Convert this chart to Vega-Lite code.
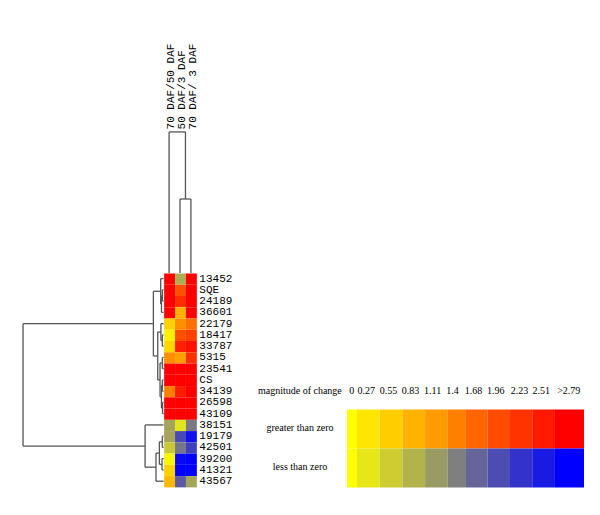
{
  "$schema": "https://vega.github.io/schema/vega-lite/v6.json",
  "width": 600,
  "height": 515,
  "autosize": {"type": "fit", "contains": "padding"},
  "padding": 0,
  "background": "white",
  "config": {"view": {"stroke": null}},
  "datasets": {
    "cells": [
      {"gene": "13452", "row": 0.5, "col": 0.5, "value": 2.9}, {"gene": "13452", "row": 0.5, "col": 1.5, "value": -0.9}, {"gene": "13452", "row": 0.5, "col": 2.5, "value": 2.9},
      {"gene": "SQE", "row": 1.5, "col": 0.5, "value": 2.9}, {"gene": "SQE", "row": 1.5, "col": 1.5, "value": 1.9}, {"gene": "SQE", "row": 1.5, "col": 2.5, "value": 2.9},
      {"gene": "24189", "row": 2.5, "col": 0.5, "value": 2.9}, {"gene": "24189", "row": 2.5, "col": 1.5, "value": 2.3}, {"gene": "24189", "row": 2.5, "col": 2.5, "value": 2.9},
      {"gene": "36601", "row": 3.5, "col": 0.5, "value": 2.9}, {"gene": "36601", "row": 3.5, "col": 1.5, "value": 0.86}, {"gene": "36601", "row": 3.5, "col": 2.5, "value": 2.9},
      {"gene": "22179", "row": 4.5, "col": 0.5, "value": 0.5}, {"gene": "22179", "row": 4.5, "col": 1.5, "value": 1.22}, {"gene": "22179", "row": 4.5, "col": 2.5, "value": 1.57},
      {"gene": "18417", "row": 5.5, "col": 0.5, "value": 0.16}, {"gene": "18417", "row": 5.5, "col": 1.5, "value": 1.91}, {"gene": "18417", "row": 5.5, "col": 2.5, "value": 2.09},
      {"gene": "33787", "row": 6.5, "col": 0.5, "value": 0.43}, {"gene": "33787", "row": 6.5, "col": 1.5, "value": 2.44}, {"gene": "33787", "row": 6.5, "col": 2.5, "value": 2.62},
      {"gene": "5315", "row": 7.5, "col": 0.5, "value": 1.22}, {"gene": "5315", "row": 7.5, "col": 1.5, "value": 1.04}, {"gene": "5315", "row": 7.5, "col": 2.5, "value": 2.27},
      {"gene": "23541", "row": 8.5, "col": 0.5, "value": 2.9}, {"gene": "23541", "row": 8.5, "col": 1.5, "value": 2.9}, {"gene": "23541", "row": 8.5, "col": 2.5, "value": 2.9},
      {"gene": "CS", "row": 9.5, "col": 0.5, "value": 2.9}, {"gene": "CS", "row": 9.5, "col": 1.5, "value": 2.9}, {"gene": "CS", "row": 9.5, "col": 2.5, "value": 2.9},
      {"gene": "34139", "row": 10.5, "col": 0.5, "value": 1.39}, {"gene": "34139", "row": 10.5, "col": 1.5, "value": 2.5}, {"gene": "34139", "row": 10.5, "col": 2.5, "value": 2.9},
      {"gene": "26598", "row": 11.5, "col": 0.5, "value": 2.9}, {"gene": "26598", "row": 11.5, "col": 1.5, "value": 2.9}, {"gene": "26598", "row": 11.5, "col": 2.5, "value": 2.9},
      {"gene": "43109", "row": 12.5, "col": 0.5, "value": 2.9}, {"gene": "43109", "row": 12.5, "col": 1.5, "value": 2.9}, {"gene": "43109", "row": 12.5, "col": 2.5, "value": 2.9},
      {"gene": "38151", "row": 13.5, "col": 0.5, "value": -1.0}, {"gene": "38151", "row": 13.5, "col": 1.5, "value": -0.3}, {"gene": "38151", "row": 13.5, "col": 2.5, "value": -1.45},
      {"gene": "19179", "row": 14.5, "col": 0.5, "value": -1.0}, {"gene": "19179", "row": 14.5, "col": 1.5, "value": -2.0}, {"gene": "19179", "row": 14.5, "col": 2.5, "value": -2.6},
      {"gene": "42501", "row": 15.5, "col": 0.5, "value": -0.6}, {"gene": "42501", "row": 15.5, "col": 1.5, "value": -1.5}, {"gene": "42501", "row": 15.5, "col": 2.5, "value": -2.1},
      {"gene": "39200", "row": 16.5, "col": 0.5, "value": -0.1}, {"gene": "39200", "row": 16.5, "col": 1.5, "value": -2.7}, {"gene": "39200", "row": 16.5, "col": 2.5, "value": -2.8},
      {"gene": "41321", "row": 17.5, "col": 0.5, "value": 0.5}, {"gene": "41321", "row": 17.5, "col": 1.5, "value": -2.8}, {"gene": "41321", "row": 17.5, "col": 2.5, "value": -2.8},
      {"gene": "43567", "row": 18.5, "col": 0.5, "value": 0.75}, {"gene": "43567", "row": 18.5, "col": 1.5, "value": -1.8}, {"gene": "43567", "row": 18.5, "col": 2.5, "value": -1.0}
    ],
    "conditions": [
      {"condition": "70 DAF/50 DAF", "col": 0.5},
      {"condition": "50 DAF/3 DAF", "col": 1.5},
      {"condition": "70 DAF/ 3 DAF", "col": 2.5}
    ],
    "tree": [
      {"x": -0.12, "y": 1.5, "x2": -0.12, "y2": 2.5}, {"x": -0.12, "y": 1.5, "x2": 0, "y2": 1.5}, {"x": -0.12, "y": 2.5, "x2": 0, "y2": 2.5},
      {"x": -0.2, "y": 2.0, "x2": -0.2, "y2": 3.5}, {"x": -0.2, "y": 2.0, "x2": -0.12, "y2": 2.0}, {"x": -0.2, "y": 3.5, "x2": 0, "y2": 3.5},
      {"x": -0.27, "y": 0.5, "x2": -0.27, "y2": 2.75}, {"x": -0.27, "y": 0.5, "x2": 0, "y2": 0.5}, {"x": -0.27, "y": 2.75, "x2": -0.2, "y2": 2.75},
      {"x": -0.12, "y": 5.5, "x2": -0.12, "y2": 6.5}, {"x": -0.12, "y": 5.5, "x2": 0, "y2": 5.5}, {"x": -0.12, "y": 6.5, "x2": 0, "y2": 6.5},
      {"x": -0.25, "y": 4.5, "x2": -0.25, "y2": 6.0}, {"x": -0.25, "y": 4.5, "x2": 0, "y2": 4.5}, {"x": -0.25, "y": 6.0, "x2": -0.12, "y2": 6.0},
      {"x": -0.12, "y": 7.5, "x2": -0.12, "y2": 8.5}, {"x": -0.12, "y": 7.5, "x2": 0, "y2": 7.5}, {"x": -0.12, "y": 8.5, "x2": 0, "y2": 8.5},
      {"x": -0.12, "y": 9.5, "x2": -0.12, "y2": 10.5}, {"x": -0.12, "y": 9.5, "x2": 0, "y2": 9.5}, {"x": -0.12, "y": 10.5, "x2": 0, "y2": 10.5},
      {"x": -0.1, "y": 11.5, "x2": -0.1, "y2": 12.5}, {"x": -0.1, "y": 11.5, "x2": 0, "y2": 11.5}, {"x": -0.1, "y": 12.5, "x2": 0, "y2": 12.5},
      {"x": -0.2, "y": 10.0, "x2": -0.2, "y2": 12.0}, {"x": -0.2, "y": 10.0, "x2": -0.12, "y2": 10.0}, {"x": -0.2, "y": 12.0, "x2": -0.1, "y2": 12.0},
      {"x": -0.33, "y": 8.0, "x2": -0.33, "y2": 11.0}, {"x": -0.33, "y": 8.0, "x2": -0.12, "y2": 8.0}, {"x": -0.33, "y": 11.0, "x2": -0.2, "y2": 11.0},
      {"x": -0.54, "y": 5.25, "x2": -0.54, "y2": 9.5}, {"x": -0.54, "y": 5.25, "x2": -0.25, "y2": 5.25}, {"x": -0.54, "y": 9.5, "x2": -0.33, "y2": 9.5},
      {"x": -0.94, "y": 1.625, "x2": -0.94, "y2": 7.375}, {"x": -0.94, "y": 1.625, "x2": -0.27, "y2": 1.625}, {"x": -0.94, "y": 7.375, "x2": -0.54, "y2": 7.375},
      {"x": -0.12, "y": 14.5, "x2": -0.12, "y2": 15.5}, {"x": -0.12, "y": 14.5, "x2": 0, "y2": 14.5}, {"x": -0.12, "y": 15.5, "x2": 0, "y2": 15.5},
      {"x": -0.15, "y": 16.5, "x2": -0.15, "y2": 17.5}, {"x": -0.15, "y": 16.5, "x2": 0, "y2": 16.5}, {"x": -0.15, "y": 17.5, "x2": 0, "y2": 17.5},
      {"x": -0.39, "y": 15.0, "x2": -0.39, "y2": 17.0}, {"x": -0.39, "y": 15.0, "x2": -0.12, "y2": 15.0}, {"x": -0.39, "y": 17.0, "x2": -0.15, "y2": 17.0},
      {"x": -0.7, "y": 16.0, "x2": -0.7, "y2": 18.5}, {"x": -0.7, "y": 16.0, "x2": -0.39, "y2": 16.0}, {"x": -0.7, "y": 18.5, "x2": 0, "y2": 18.5},
      {"x": -1.7, "y": 13.5, "x2": -1.7, "y2": 17.25}, {"x": -1.7, "y": 13.5, "x2": 0, "y2": 13.5}, {"x": -1.7, "y": 17.25, "x2": -0.7, "y2": 17.25},
      {"x": -12.89, "y": 4.5, "x2": -12.89, "y2": 15.375}, {"x": -12.89, "y": 4.5, "x2": -0.94, "y2": 4.5}, {"x": -12.89, "y": 15.375, "x2": -1.7, "y2": 15.375},
      {"x": 1.5, "y": 0, "x2": 1.5, "y2": -6.57}, {"x": 2.5, "y": 0, "x2": 2.5, "y2": -6.57}, {"x": 1.5, "y": -6.57, "x2": 2.5, "y2": -6.57},
      {"x": 0.5, "y": 0, "x2": 0.5, "y2": -12.53}, {"x": 2.0, "y": -6.57, "x2": 2.0, "y2": -12.53}, {"x": 0.5, "y": -12.53, "x2": 2.0, "y2": -12.53}
    ],
    "legendCells": [
      {"side": "greater than zero", "gy": 0.5, "label": "0", "value": 0, "from": 0.56, "to": 1},
      {"side": "greater than zero", "gy": 0.5, "label": "0.27", "value": 0.27, "from": 1, "to": 2},
      {"side": "greater than zero", "gy": 0.5, "label": "0.55", "value": 0.55, "from": 2, "to": 3},
      {"side": "greater than zero", "gy": 0.5, "label": "0.83", "value": 0.83, "from": 3, "to": 4},
      {"side": "greater than zero", "gy": 0.5, "label": "1.11", "value": 1.11, "from": 4, "to": 5},
      {"side": "greater than zero", "gy": 0.5, "label": "1.4", "value": 1.4, "from": 5, "to": 5.8},
      {"side": "greater than zero", "gy": 0.5, "label": "1.68", "value": 1.68, "from": 5.8, "to": 6.75},
      {"side": "greater than zero", "gy": 0.5, "label": "1.96", "value": 1.96, "from": 6.75, "to": 7.74},
      {"side": "greater than zero", "gy": 0.5, "label": "2.23", "value": 2.23, "from": 7.74, "to": 8.72},
      {"side": "greater than zero", "gy": 0.5, "label": "2.51", "value": 2.51, "from": 8.72, "to": 9.72},
      {"side": "greater than zero", "gy": 0.5, "label": ">2.79", "value": 2.79, "from": 9.72, "to": 11.0},
      {"side": "less than zero", "gy": 1.5, "label": "0", "value": 0, "from": 0.56, "to": 1},
      {"side": "less than zero", "gy": 1.5, "label": "0.27", "value": -0.27, "from": 1, "to": 2},
      {"side": "less than zero", "gy": 1.5, "label": "0.55", "value": -0.55, "from": 2, "to": 3},
      {"side": "less than zero", "gy": 1.5, "label": "0.83", "value": -0.83, "from": 3, "to": 4},
      {"side": "less than zero", "gy": 1.5, "label": "1.11", "value": -1.11, "from": 4, "to": 5},
      {"side": "less than zero", "gy": 1.5, "label": "1.4", "value": -1.4, "from": 5, "to": 5.8},
      {"side": "less than zero", "gy": 1.5, "label": "1.68", "value": -1.68, "from": 5.8, "to": 6.75},
      {"side": "less than zero", "gy": 1.5, "label": "1.96", "value": -1.96, "from": 6.75, "to": 7.74},
      {"side": "less than zero", "gy": 1.5, "label": "2.23", "value": -2.23, "from": 7.74, "to": 8.72},
      {"side": "less than zero", "gy": 1.5, "label": "2.51", "value": -2.51, "from": 8.72, "to": 9.72},
      {"side": "less than zero", "gy": 1.5, "label": ">2.79", "value": -2.79, "from": 9.72, "to": 11.0}
    ],
    "legendLabels": [
      {"label": "0", "mid": 0.77}, {"label": "0.27", "mid": 1.41}, {"label": "0.55", "mid": 2.39},
      {"label": "0.83", "mid": 3.36}, {"label": "1.11", "mid": 4.33}, {"label": "1.4", "mid": 5.21},
      {"label": "1.68", "mid": 6.13}, {"label": "1.96", "mid": 7.11}, {"label": "2.23", "mid": 8.16},
      {"label": "2.51", "mid": 9.12}, {"label": ">2.79", "mid": 10.33}
    ],
    "legendRows": [
      {"side": "greater than zero", "gy": 0.5},
      {"side": "less than zero", "gy": 1.5}
    ]
  },
  "resolve": {"scale": {"x": "independent", "y": "independent"}},
  "layer": [
    {
      "layer": [
        {
          "data": {"name": "cells"},
          "mark": {"type": "rect", "binSpacing": 0},
          "encoding": {
            "x": {"field": "col", "type": "quantitative", "bin": {"step": 1, "extent": [0, 3]}, "scale": {"domain": [-15, 40], "nice": false, "zero": false}, "axis": null},
            "y": {"field": "row", "type": "quantitative", "bin": {"step": 1, "extent": [0, 19]}, "scale": {"domain": [-24.25, 21.5], "nice": false, "zero": false, "reverse": true}, "axis": null},
            "color": {"field": "value", "type": "quantitative", "scale": {"type": "linear", "domain": [-2.79, 0, 2.79], "range": ["#0000ff", "#ffff00", "#ff0000"], "interpolate": "rgb", "clamp": true}, "legend": null}
          }
        },
        {
          "data": {"name": "tree"},
          "mark": {"type": "rule", "color": "#555555", "strokeWidth": 1.3},
          "encoding": {
            "x": {"field": "x", "type": "quantitative", "scale": {"domain": [-15, 40], "nice": false, "zero": false}, "axis": null},
            "y": {"field": "y", "type": "quantitative", "scale": {"domain": [-24.25, 21.5], "nice": false, "zero": false, "reverse": true}, "axis": null},
            "x2": {"field": "x2"},
            "y2": {"field": "y2"}
          }
        },
        {
          "data": {"name": "cells"},
          "transform": [{"filter": "datum.col == 0.5"}],
          "mark": {"type": "text", "align": "left", "baseline": "middle", "font": "Liberation Mono", "fontSize": 11, "dx": 3, "color": "#000000"},
          "encoding": {
            "x": {"datum": 3, "type": "quantitative", "scale": {"domain": [-15, 40], "nice": false, "zero": false}, "axis": null},
            "y": {"field": "row", "type": "quantitative", "scale": {"domain": [-24.25, 21.5], "nice": false, "zero": false, "reverse": true}, "axis": null},
            "text": {"field": "gene"}
          }
        },
        {
          "data": {"name": "conditions"},
          "mark": {"type": "text", "align": "left", "baseline": "middle", "angle": 270, "font": "Liberation Mono", "fontSize": 11, "xOffset": 2, "color": "#000000"},
          "encoding": {
            "x": {"field": "col", "type": "quantitative", "scale": {"domain": [-15, 40], "nice": false, "zero": false}, "axis": null},
            "y": {"datum": -12.75, "type": "quantitative", "scale": {"domain": [-24.25, 21.5], "nice": false, "zero": false, "reverse": true}, "axis": null},
            "text": {"field": "condition"}
          }
        }
      ]
    },
    {
      "layer": [
        {
          "data": {"name": "legendCells"},
          "mark": {"type": "rect"},
          "encoding": {
            "x": {"field": "from", "type": "quantitative", "scale": {"domain": [-14.727, 11.705], "nice": false, "zero": false}, "axis": null},
            "x2": {"field": "to"},
            "y": {"field": "gy", "type": "quantitative", "bin": {"step": 1, "extent": [0, 2]}, "scale": {"domain": [-10.487, 2.718], "nice": false, "zero": false, "reverse": true}, "axis": null},
            "color": {"field": "value", "type": "quantitative", "scale": {"type": "linear", "domain": [-2.79, 0, 2.79], "range": ["#0000ff", "#ffff00", "#ff0000"], "interpolate": "rgb", "clamp": true}, "legend": null}
          }
        },
        {
          "data": {"name": "legendLabels"},
          "mark": {"type": "text", "align": "center", "baseline": "middle", "font": "Liberation Serif", "fontSize": 10, "color": "#000000"},
          "encoding": {
            "x": {"field": "mid", "type": "quantitative", "scale": {"domain": [-14.727, 11.705], "nice": false, "zero": false}, "axis": null},
            "y": {"datum": -0.47, "type": "quantitative", "scale": {"domain": [-10.487, 2.718], "nice": false, "zero": false, "reverse": true}, "axis": null},
            "text": {"field": "label"}
          }
        },
        {
          "data": {"values": [{"title": "magnitude of change"}]},
          "mark": {"type": "text", "align": "right", "baseline": "middle", "font": "Liberation Serif", "fontSize": 10, "color": "#000000"},
          "encoding": {
            "x": {"datum": 0.33, "type": "quantitative", "scale": {"domain": [-14.727, 11.705], "nice": false, "zero": false}, "axis": null},
            "y": {"datum": -0.47, "type": "quantitative", "scale": {"domain": [-10.487, 2.718], "nice": false, "zero": false, "reverse": true}, "axis": null},
            "text": {"field": "title"}
          }
        },
        {
          "data": {"name": "legendRows"},
          "mark": {"type": "text", "align": "center", "baseline": "middle", "font": "Liberation Serif", "fontSize": 10, "color": "#000000"},
          "encoding": {
            "x": {"datum": -1.51, "type": "quantitative", "scale": {"domain": [-14.727, 11.705], "nice": false, "zero": false}, "axis": null},
            "y": {"field": "gy", "type": "quantitative", "scale": {"domain": [-10.487, 2.718], "nice": false, "zero": false, "reverse": true}, "axis": null},
            "text": {"field": "side"}
          }
        }
      ]
    }
  ]
}
